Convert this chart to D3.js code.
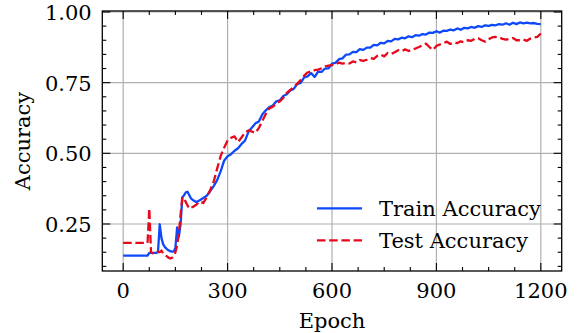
<!DOCTYPE html>
<html>
<head>
<meta charset="utf-8">
<script src="https://cdn.jsdelivr.net/npm/d3@7"></script>
<style>
  html, body { margin: 0; padding: 0; background: #fff; }
  svg { display: block; }
  svg text { font-family: 'DejaVu Serif', serif; fill: #000; }
</style>
</head>
<body>
<div id="chart"></div>
<script>
// epochs: finer steps through the noisy start, then every 10
const epochsEarly = d3.range(0, 200, 5);
const epochsLate = d3.range(200, 1201, 10);

const trainEarly = [
  0.138, 0.138, 0.138, 0.138, 0.138, 0.138, 0.138, 0.138, 0.138, 0.138, 0.138, 0.138, 0.138, 0.138, 0.138,
  0.148, 0.148, 0.147, 0.148, 0.148, 0.150, 0.249, 0.200, 0.178, 0.168, 0.162, 0.157, 0.154, 0.152, 0.153,
  0.165, 0.238, 0.205, 0.250, 0.345, 0.352, 0.362, 0.364, 0.352, 0.340
];
const testEarly = [
  0.183, 0.183, 0.183, 0.183, 0.183, 0.183, 0.183, 0.183, 0.183, 0.183, 0.183, 0.183, 0.183, 0.183, 0.183,
  0.305, 0.150, 0.147, 0.148, 0.145, 0.152, 0.150, 0.156, 0.145, 0.140, 0.136, 0.131, 0.128, 0.130, 0.136,
  0.150, 0.175, 0.215, 0.285, 0.345, 0.338, 0.328, 0.315, 0.305, 0.310
];

const trainLate = [
  0.335, 0.328, 0.334, 0.342, 0.350, 0.366, 0.384, 0.405, 0.436, 0.474,
  0.490, 0.497, 0.509, 0.518, 0.533, 0.545, 0.576, 0.591, 0.606, 0.613,
  0.638, 0.652, 0.664, 0.669, 0.684, 0.687, 0.703, 0.709, 0.722, 0.728,
  0.745, 0.749, 0.769, 0.772, 0.784, 0.770, 0.789, 0.788, 0.800, 0.801,
  0.817, 0.820, 0.833, 0.836, 0.849, 0.850, 0.859, 0.858, 0.869, 0.866,
  0.874, 0.874, 0.884, 0.882, 0.891, 0.889, 0.898, 0.896, 0.905, 0.903,
  0.909, 0.907, 0.914, 0.911, 0.918, 0.916, 0.922, 0.920, 0.927, 0.926,
  0.932, 0.927, 0.934, 0.933, 0.938, 0.935, 0.942, 0.937, 0.944, 0.942,
  0.947, 0.944, 0.950, 0.947, 0.953, 0.951, 0.954, 0.953, 0.957, 0.955,
  0.960, 0.955, 0.962, 0.957, 0.963, 0.960, 0.962, 0.960, 0.961, 0.958, 0.957
];
const testLate = [
  0.310, 0.318, 0.330, 0.324, 0.345, 0.370, 0.400, 0.446, 0.490, 0.520,
  0.545, 0.555, 0.560, 0.540, 0.556, 0.574, 0.581, 0.577, 0.572, 0.590,
  0.615, 0.640, 0.659, 0.665, 0.676, 0.684, 0.696, 0.714, 0.724, 0.736,
  0.746, 0.759, 0.775, 0.786, 0.790, 0.794, 0.796, 0.801, 0.808, 0.810,
  0.812, 0.815, 0.821, 0.817, 0.820, 0.818, 0.825, 0.822, 0.830, 0.827,
  0.831, 0.837, 0.834, 0.845, 0.849, 0.843, 0.855, 0.851, 0.858, 0.865,
  0.861, 0.868, 0.862, 0.866, 0.871, 0.876, 0.882, 0.888, 0.876, 0.866,
  0.880, 0.885, 0.890, 0.895, 0.887, 0.892, 0.890, 0.896, 0.893, 0.900,
  0.898, 0.905, 0.907, 0.900, 0.895, 0.904, 0.910, 0.912, 0.910, 0.905,
  0.902, 0.905, 0.908, 0.900, 0.900, 0.902, 0.898, 0.906, 0.910, 0.912, 0.924
];

const xTicks = [0, 300, 600, 900, 1200];
const yTicks = [0.25, 0.50, 0.75, 1.00];

const seriesNames = ['Train Accuracy', 'Test Accuracy'];
const seriesColors = ['#0d49fb', '#e6091c'];

const width = 582,
      height = 333,
      margin = {top: 11, right: 20.3, bottom: 62, left: 102.3},
      innerWidth = width - margin.left - margin.right,
      innerHeight = height - margin.top - margin.bottom,
      fontSize = '21px';

const epochs = epochsEarly.concat(epochsLate);
const series = [trainEarly.concat(trainLate), testEarly.concat(testLate)];

const x = d3.scaleLinear().domain([-60, 1260]).range([0, innerWidth]);
const y = d3.scaleLinear().domain([0.0837, 1.0035]).range([innerHeight, 0]);

const svg = d3.select('#chart').append('svg')
  .attr('width', width)
  .attr('height', height);

const g = svg.append('g')
  .attr('transform', `translate(${margin.left},${margin.top})`);

// grid
g.selectAll('.gx').data(xTicks).enter().append('line')
  .attr('x1', d => x(d)).attr('x2', d => x(d))
  .attr('y1', 0).attr('y2', innerHeight)
  .attr('stroke', '#b0b0b0').attr('stroke-width', 1.2);
g.selectAll('.gy').data(yTicks).enter().append('line')
  .attr('y1', d => y(d)).attr('y2', d => y(d))
  .attr('x1', 0).attr('x2', innerWidth)
  .attr('stroke', '#b0b0b0').attr('stroke-width', 1.2);

// lines
const line = d3.line()
  .x((d, i) => x(epochs[i]))
  .y(d => y(d));

g.append('defs').append('clipPath').attr('id', 'clip')
  .append('rect').attr('width', innerWidth).attr('height', innerHeight);

series.forEach((s, k) => {
  g.append('path')
    .datum(s)
    .attr('clip-path', 'url(#clip)')
    .attr('fill', 'none')
    .attr('stroke', seriesColors[k])
    .attr('stroke-width', 2.3)
    .attr('stroke-linejoin', 'round')
    .attr('stroke-dasharray', k === 1 ? '8.5,3.7' : null)
    .attr('d', line);
});

// ticks, pointing inward on all four sides
const xMinor = d3.range(-75, 1276, 75).filter(v => v >= -60 && v <= 1260 && v % 300 !== 0);
const yMinor = d3.range(0.10, 1.001, 0.05).filter(v => Math.abs(v * 4 - Math.round(v * 4)) > 1e-6);

function tickMarks(values, len, isX) {
  values.forEach(v => {
    if (isX) {
      const px = x(v);
      g.append('line').attr('x1', px).attr('x2', px).attr('y1', innerHeight).attr('y2', innerHeight - len)
        .attr('stroke', '#000').attr('stroke-width', 1.1);
      g.append('line').attr('x1', px).attr('x2', px).attr('y1', 0).attr('y2', len)
        .attr('stroke', '#000').attr('stroke-width', 1.1);
    } else {
      const py = y(v);
      g.append('line').attr('y1', py).attr('y2', py).attr('x1', 0).attr('x2', len)
        .attr('stroke', '#000').attr('stroke-width', 1.1);
      g.append('line').attr('y1', py).attr('y2', py).attr('x1', innerWidth).attr('x2', innerWidth - len)
        .attr('stroke', '#000').attr('stroke-width', 1.1);
    }
  });
}
tickMarks(xTicks, 8, true);
tickMarks(xMinor, 4, true);
tickMarks(yTicks, 8, false);
tickMarks(yMinor, 4, false);

g.append('rect')
  .attr('width', innerWidth).attr('height', innerHeight)
  .attr('fill', 'none').attr('stroke', '#000').attr('stroke-width', 1.3);

// tick labels
g.selectAll('.xl').data(xTicks).enter().append('text')
  .attr('x', d => x(d)).attr('y', innerHeight + 26.7)
  .attr('text-anchor', 'middle')
  .style('font-size', fontSize)
  .text(d => d);
g.selectAll('.yl').data(yTicks).enter().append('text')
  .attr('x', -10.6).attr('y', d => y(d) + 8)
  .attr('text-anchor', 'end')
  .style('font-size', fontSize)
  .text(d => d3.format('.2f')(d));

// axis titles
g.append('text')
  .attr('x', innerWidth / 2).attr('y', innerHeight + 56.5)
  .attr('text-anchor', 'middle')
  .style('font-size', fontSize)
  .text('Epoch');
g.append('text')
  .attr('transform', `translate(${30.4 - margin.left},${innerHeight / 2}) rotate(-90)`)
  .attr('text-anchor', 'middle')
  .style('font-size', fontSize)
  .text('Accuracy');

// legend, no frame
const legend = g.append('g').attr('transform', `translate(${317 - margin.left},${208.3 - margin.top})`);
seriesNames.forEach((name, k) => {
  const row = legend.append('g').attr('transform', `translate(0,${k * 32})`);
  row.append('line')
    .attr('x1', 0).attr('x2', 45).attr('y1', 0).attr('y2', 0)
    .attr('stroke', seriesColors[k]).attr('stroke-width', 2.3)
    .attr('stroke-dasharray', k === 1 ? '8.5,3.7' : null);
  row.append('text')
    .attr('x', 62).attr('y', 7.7)
    .style('font-size', fontSize)
    .text(name);
});
</script>
</body>
</html>
